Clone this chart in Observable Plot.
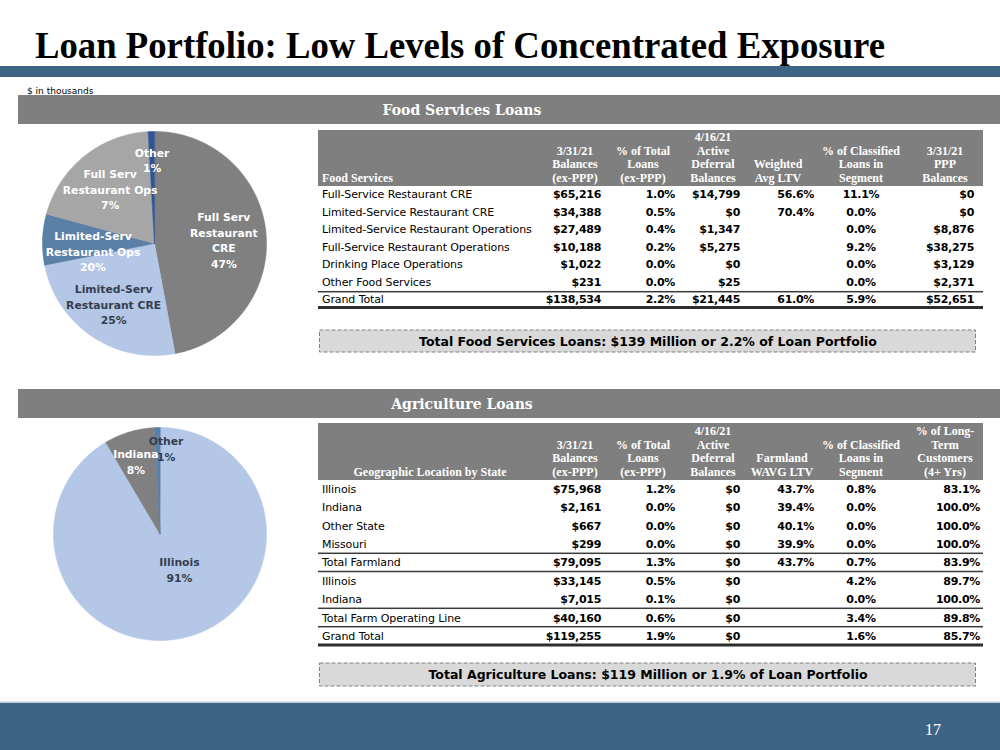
<!DOCTYPE html>
<html><head><meta charset="utf-8">
<script src="https://cdn.jsdelivr.net/npm/d3@7"></script>
<script src="https://cdn.jsdelivr.net/npm/@observablehq/plot@0.6"></script>
<style>
body{margin:0;background:#fff;}
#page{position:relative;width:1000px;height:750px;overflow:hidden;background:#fff;}
</style></head><body><div id="page"></div>
<script>
// ---------------- DATA ----------------
const titleText = "Loan Portfolio: Low Levels of Concentrated Exposure";
const unitsNote = "$ in thousands";
const pageNumber = "17";

const foodSectionTitle = "Food Services Loans";
const foodLabelHeader = "Food Services";
const foodHeaders = [["3/31/21","Balances","(ex-PPP)"],["% of Total","Loans","(ex-PPP)"],["4/16/21","Active","Deferral","Balances"],["Weighted","Avg LTV"],["% of Classified","Loans in","Segment"],["3/31/21","PPP","Balances"]];
const foodRowLabels = ["Full-Service Restaurant CRE","Limited-Service Restaurant CRE","Limited-Service Restaurant Operations","Full-Service Restaurant Operations","Drinking Place Operations","Other Food Services","Grand Total"];
const foodBalances   = [65216, 34388, 27489, 10188, 1022, 231, 138534];
const foodPctTotal   = [1.0, 0.5, 0.4, 0.2, 0.0, 0.0, 2.2];
const foodDeferral   = [14799, 0, 1347, 5275, 0, 25, 21445];
const foodLTV        = [56.6, 70.4, null, null, null, null, 61.0];
const foodClassified = [11.1, 0.0, 0.0, 9.2, 0.0, 0.0, 5.9];
const foodPPP        = [0, 0, 8876, 38275, 3129, 2371, 52651];
const foodTotalNote  = "Total Food Services Loans: $139 Million or 2.2% of Loan Portfolio";

// pie slices in drawing order (clockwise from 12 o'clock), labels as printed on the slide
const foodPieNames  = ["Full Serv Restaurant CRE","Limited-Serv Restaurant CRE","Full Serv Restaurant Ops","Limited-Serv Restaurant Ops","Other"];
const foodPieValues = [65216, 34388, 10188, 27489, 1253];
const foodPieLabels = ["Full Serv\nRestaurant\nCRE\n47%","Limited-Serv\nRestaurant CRE\n25%","Limited-Serv\nRestaurant Ops\n20%","Full Serv\nRestaurant Ops\n7%","Other\n1%"];

const agriSectionTitle = "Agriculture Loans";
const agriLabelHeader = "Geographic Location by State";
const agriHeaders = [["3/31/21","Balances","(ex-PPP)"],["% of Total","Loans","(ex-PPP)"],["4/16/21","Active","Deferral","Balances"],["Farmland","WAVG LTV"],["% of Classified","Loans in","Segment"],["% of Long-","Term","Customers","(4+ Yrs)"]];
const agriRowLabels  = ["Illinois","Indiana","Other State","Missouri","Total Farmland","Illinois","Indiana","Total Farm Operating Line","Grand Total"];
const agriBalances   = [75968, 2161, 667, 299, 79095, 33145, 7015, 40160, 119255];
const agriPctTotal   = [1.2, 0.0, 0.0, 0.0, 1.3, 0.5, 0.1, 0.6, 1.9];
const agriDeferral   = [0, 0, 0, 0, 0, 0, 0, 0, 0];
const agriLTV        = [43.7, 39.4, 40.1, 39.9, 43.7, null, null, null, null];
const agriClassified = [0.8, 0.0, 0.0, 0.0, 0.7, 4.2, 0.0, 3.4, 1.6];
const agriLongTerm   = [83.1, 100.0, 100.0, 100.0, 83.9, 89.7, 100.0, 89.8, 85.7];
const agriTotalNote  = "Total Agriculture Loans: $119 Million or 1.9% of Loan Portfolio";

const agriPieNames  = ["Illinois","Indiana","Other"];
const agriPieValues = [109113, 9176, 966];
const agriPieLabels = ["Illinois\n91%","Indiana\n8%","Other\n1%"];

// ---------------- STYLE ----------------
const BLUE = "#3e6485", GRAY = "#7f7f7f", INK = "#000", NAVY = "#333f50";
const foodPieColors = ["#808080","#b4c7e7","#5b80a8","#a6a6a6","#2f5597"];
const foodLabelInk  = ["#fff", NAVY, "#fff", "#fff", "#fff"];
const foodLabelR    = [0.62, 0.65, 0.553, 0.63, 0.75];
const foodLabelTurn = [2, 0, -9, 0, 0];      // degrees
const agriPieColors = ["#b4c7e7","#808080","#5b80a8"];
const agriLabelInk  = [NAVY, "#fff", NAVY];
const agriLabelR    = [0.376, 0.72, 0.81];
const agriLabelTurn = [-13.8, -1.6, 5.5];
const SANS = "'DejaVu Sans', sans-serif", SERIF = "'Liberation Serif', serif", WSERIF = "'DejaVu Serif', serif";

const money = v => "$" + d3.format(",")(v);
const pct = v => v == null ? "" : d3.format(".1f")(v) + "%";

// ---------------- DRAW ----------------
const page = d3.select("#page");
const svg = page.append("svg").attr("width", 1000).attr("height", 750)
  .style("position", "absolute").style("left", "0px").style("top", "0px");

function txt(x, y, s, o = {}) {
  const t = svg.append("text").attr("x", x).attr("y", y).text(s)
    .attr("font-family", o.family || SANS).attr("font-size", o.size || 11)
    .attr("font-weight", o.weight || "normal").attr("fill", o.fill || INK)
    .attr("text-anchor", o.anchor || "start");
  if (o.ls) t.attr("letter-spacing", o.ls);
  if (o.len) t.attr("textLength", o.len).attr("lengthAdjust", "spacingAndGlyphs");
  return t;
}
function rect(x, y, w, h, fill) { return svg.append("rect").attr("x", x).attr("y", y).attr("width", w).attr("height", h).attr("fill", fill); }

// title + band
txt(35, 58, titleText, {family: SERIF, size: 38, weight: "bold", len: 850});
rect(0, 66, 1000, 11, BLUE);
txt(27, 93.5, unitsNote, {size: 9});

// section bars
rect(18, 95, 982, 29, GRAY);
txt(462, 114.5, foodSectionTitle, {family: WSERIF, size: 14, weight: "bold", fill: "#fff", anchor: "middle"});
rect(18, 389, 982, 29, GRAY);
txt(462, 408.5, agriSectionTitle, {family: WSERIF, size: 14, weight: "bold", fill: "#fff", anchor: "middle"});

// footer
rect(0, 701.5, 1000, 1.5, "#b9cbdb");
rect(0, 703, 1000, 47, BLUE);
txt(933, 734.5, pageNumber, {family: SERIF, size: 16, fill: "#fff", anchor: "middle"});

function drawTable(cfg) {
  rect(318, cfg.headTop, 665, cfg.headBottom - cfg.headTop, GRAY);
  const lastC = cfg.headBottom - 8, pitch = 13.6;
  txt(cfg.labelX, lastC + 4, cfg.labelHeader, {family: SERIF, size: 12, weight: "bold", fill: "#fff", anchor: cfg.labelAnchor});
  cfg.headers.forEach((lines, j) => {
    lines.forEach((s, i) => txt(cfg.cols[j].hx, lastC - (lines.length - 1 - i) * pitch + 4, s,
      {family: SERIF, size: 12, weight: "bold", fill: "#fff", anchor: "middle"}));
  });
  cfg.rowLabels.forEach((lab, r) => {
    const cy = cfg.rowY0 + r * cfg.rowPitch;
    txt(322, cy + 4, lab, {size: 11, ls: -0.1});
    cfg.columns.forEach((col, j) => {
      const c = cfg.cols[j];
      txt(c.vx, cy + 4, col[r], {size: 11, weight: "bold", anchor: c.anchor || "end", ls: -0.3});
    });
  });
  cfg.thin.forEach(y => rect(318, y - 0.75, 665, 1.5, "#3a3a3a"));
  rect(318, cfg.thick - 1.5, 665, 3, "#2e2e2e");
  // dashed note box
  svg.append("rect").attr("x", 319.5).attr("y", cfg.boxTop).attr("width", 656).attr("height", cfg.boxH)
    .attr("fill", "#d9d9d9").attr("stroke", "#808080").attr("stroke-width", 1).attr("stroke-dasharray", "4,2");
  txt(648, cfg.boxTop + cfg.boxH / 2 + 4.5, cfg.note, {size: 12.5, weight: "bold", anchor: "middle"});
}

drawTable({
  headTop: 130, headBottom: 186, labelHeader: foodLabelHeader, labelX: 322, labelAnchor: "start",
  headers: foodHeaders,
  cols: [{hx: 575, vx: 601}, {hx: 643, vx: 675}, {hx: 713, vx: 740}, {hx: 778, vx: 814}, {hx: 861, vx: 861, anchor: "middle"}, {hx: 945, vx: 974}],
  rowLabels: foodRowLabels,
  columns: [foodBalances.map(money), foodPctTotal.map(pct), foodDeferral.map(money), foodLTV.map(pct), foodClassified.map(pct), foodPPP.map(money)],
  rowY0: 194.3, rowPitch: 17.5, thin: [291.7], thick: 307.5,
  boxTop: 330, boxH: 22, note: foodTotalNote
});

drawTable({
  headTop: 423, headBottom: 480, labelHeader: agriLabelHeader, labelX: 430, labelAnchor: "middle",
  headers: agriHeaders,
  cols: [{hx: 575, vx: 601}, {hx: 643, vx: 675}, {hx: 713, vx: 740}, {hx: 782, vx: 814}, {hx: 861, vx: 861, anchor: "middle"}, {hx: 945, vx: 980}],
  rowLabels: agriRowLabels,
  columns: [agriBalances.map(money), agriPctTotal.map(pct), agriDeferral.map(money), agriLTV.map(pct), agriClassified.map(pct), agriLongTerm.map(pct)],
  rowY0: 488.7, rowPitch: 18.4, thin: [553.3, 571.5, 608.3, 626.7], thick: 645,
  boxTop: 663, boxH: 23, note: agriTotalNote
});

// pies with Plot
function drawPie(names, values, labels, colors, inks, labelR, labelTurn, cx, cy, R) {
  const S = Math.ceil(2 * R + 10);
  const arcs = d3.pie().sort(null)(values);
  const poly = [];
  arcs.forEach((a, i) => {
    const steps = Math.max(2, Math.ceil((a.endAngle - a.startAngle) / (Math.PI / 360)));
    poly.push({name: names[i], x: 0, y: 0});
    for (let k = 0; k <= steps; ++k) {
      const t = a.startAngle + (a.endAngle - a.startAngle) * k / steps;
      poly.push({name: names[i], x: R * Math.sin(t), y: -R * Math.cos(t)});
    }
  });
  const lab = arcs.map((a, i) => {
    const m = (a.startAngle + a.endAngle) / 2 + labelTurn[i] * Math.PI / 180, r = R * labelR[i];
    return {text: labels[i], ink: inks[i], x: r * Math.sin(m), y: -r * Math.cos(m)};
  });
  const textMarks = Array.from(new Set(inks)).map(ink =>
    Plot.text(lab.filter(d => d.ink === ink), {x: "x", y: "y", text: "text", fill: ink,
      fontFamily: SANS, fontSize: 10.8, fontWeight: "bold", lineHeight: 1.43}));
  const chart = Plot.plot({
    width: S, height: S, margin: 0,
    x: {domain: [-S / 2, S / 2], axis: null},
    y: {domain: [-S / 2, S / 2], range: [0, S], axis: null},
    color: {domain: names, range: colors},
    style: {background: "transparent", overflow: "visible"},
    marks: [
      Plot.line(poly, {x: "x", y: "y", z: "name", fill: "name", stroke: "name", strokeWidth: 0.6, curve: "linear-closed"}),
      ...textMarks
    ]
  });
  chart.style.position = "absolute";
  chart.style.left = (cx - S / 2) + "px";
  chart.style.top = (cy - S / 2) + "px";
  chart.style.maxWidth = "none";
  page.node().appendChild(chart);
}

drawPie(foodPieNames, foodPieValues, foodPieLabels, foodPieColors, foodLabelInk, foodLabelR, foodLabelTurn, 153.5, 242.5, 112);
drawPie(agriPieNames, agriPieValues, agriPieLabels, agriPieColors, agriLabelInk, agriLabelR, agriLabelTurn, 159.5, 533, 106.5);
</script></body></html>
